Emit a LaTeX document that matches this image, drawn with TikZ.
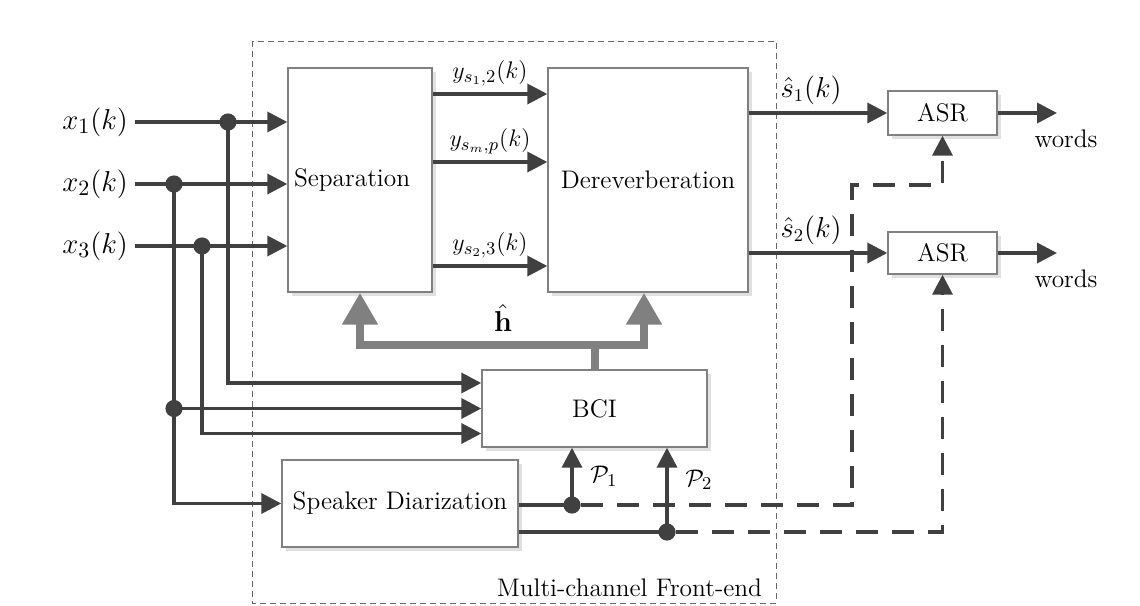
\documentclass[tikz,border=0pt]{standalone}
\usepackage{amsmath}
\usepackage{xcolor}
\usetikzlibrary{arrows.meta}
\usetikzlibrary{shadows}

\definecolor{linegray}{HTML}{404040}
\definecolor{boxgray}{HTML}{808080}
\definecolor{hgray}{HTML}{808080}

\tikzset{
  blk/.style={draw=boxgray, line width=0.7pt, fill=white, inner sep=0pt,
    drop shadow={shadow xshift=2pt, shadow yshift=-2pt, fill=black!12, opacity=1},
    font=\fontsize{12.7}{15}\selectfont},
  txt/.style={font=\fontsize{12.7}{15}\selectfont},
  wire/.style={draw=linegray, line width=1.8pt},
  conn/.style={wire, -{Triangle[length=10pt,width=10pt]}},
  dconn/.style={conn, dash pattern=on 11pt off 7pt},
  hconn/.style={draw=hgray, line width=4pt, -{Triangle[length=16pt,width=17pt]}},
  hwire/.style={draw=hgray, line width=4pt},
  dot/.style={circle, fill=linegray, inner sep=0pt, minimum size=8.6pt},
  frm/.style={draw=black!60, line width=0.5pt, dash pattern=on 3pt off 2pt},
  inlbl/.style={font=\fontsize{15}{18}\selectfont},
  ylbl/.style={font=\fontsize{12.5}{15}\selectfont},
  outlbl/.style={font=\fontsize{13.3}{16}\selectfont},
  plbl/.style={font=\fontsize{12.5}{15}\selectfont},
}

\begin{document}
\begin{tikzpicture}[x=0.5pt,y=-0.5pt]

\useasboundingbox (0,0) rectangle (1140,605);

% front-end frame
\draw[frm] (252,41) rectangle (776,603);
\node[txt, anchor=south east] (fe) at (769,604) {Multi-channel Front-end};

% blocks
\node[blk, minimum width=72pt, minimum height=112pt, text width=66pt, align=left] (sep) at (360,180) {Separation};
\node[blk, minimum width=100pt, minimum height=112pt] (derev) at (648,180) {Dereverberation};
\node[blk, minimum width=112.5pt, minimum height=38.5pt] (bci) at (594.5,408.5) {BCI};
\node[blk, minimum width=118pt, minimum height=43.5pt] (sd) at (400,503.5) {Speaker Diarization};
\node[blk, minimum width=54.5pt, minimum height=22pt] (asr1) at (942.5,113) {ASR};
\node[blk, minimum width=54.5pt, minimum height=21pt] (asr2) at (942.5,253) {ASR};

% inputs
\node[inlbl, anchor=east] (x1) at (135,122) {$x_1(k)$};
\node[inlbl, anchor=east] (x2) at (135,184) {$x_2(k)$};
\node[inlbl, anchor=east] (x3) at (135,246) {$x_3(k)$};

\draw[conn] (x1.east) -- (x1.east -| sep.west);
\draw[conn] (x2.east) -- (x2.east -| sep.west);
\draw[conn] (x3.east) -- (x3.east -| sep.west);

\node[dot] (j1) at (228,122) {};
\node[dot] (j2) at (174,184) {};
\node[dot] (j3) at (202,246) {};
\node[dot] (j4) at (174,408.5) {};

\draw[conn] (j1.center) |- ([yshift=12.75pt]bci.west);
\draw[conn] (j4.center) -- (bci.west);
\draw[conn] (j3.center) |- ([yshift=-12.5pt]bci.west);
\draw[conn] (j2.center) |- (sd.west);

% separation -> dereverberation
\draw[conn] (sep.east |- 0,94) -- node[ylbl, above] {$y_{s_1,2}(k)$} (derev.west |- 0,94);
\draw[conn] (sep.east |- 0,162) -- node[ylbl, above] {$y_{s_m,p}(k)$} (derev.west |- 0,162);
\draw[conn] (sep.east |- 0,266) -- node[ylbl, above] {$y_{s_2,3}(k)$} (derev.west |- 0,266);

% dereverberation -> ASR
\draw[conn] (derev.east |- asr1.west) -- node[outlbl, above, pos=0.45] {$\hat{s}_1(k)$} (asr1.west);
\draw[conn] (derev.east |- asr2.west) -- node[outlbl, above, pos=0.45] {$\hat{s}_2(k)$} (asr2.west);

\coordinate (o1) at (1057,113);
\coordinate (o2) at (1057,253);
\draw[conn] (asr1.east) -- (o1);
\draw[conn] (asr2.east) -- (o2);
\node[txt] (w1) at (1066,139) {words};
\node[txt] (w2) at (1066,279) {words};

% channel estimate
\coordinate (hm) at (595,345);
\draw[hwire] (bci.north -| hm) -- (hm);
\draw[hconn] (hm) -| (sep.south);
\draw[hconn] (hm) -| ([xshift=-2pt]derev.south);
\node[outlbl, inner sep=1pt] (h) at (503,318) {$\hat{\mathbf{h}}$};

% diarization outputs
\node[dot] (p1) at (572,505) {};
\node[dot] (p2) at (667,532) {};
\draw[wire] (sd.east |- p1) -- (p1.center);
\draw[wire] (sd.east |- p2) -- (p2.center);
\draw[conn] (p1.center) -- node[midway, right=5pt, plbl] {$\mathcal{P}_1$} (p1 |- bci.south);
\draw[conn] (p2.center) -- node[pos=0.62, right=5pt, plbl] {$\mathcal{P}_2$} (p2 |- bci.south);

\coordinate (c1) at (852,185);
\draw[dconn] (p1) -| (c1) -| (asr1.south);
\draw[dconn] (p2) -| (asr2.south);

\end{tikzpicture}
\end{document}
